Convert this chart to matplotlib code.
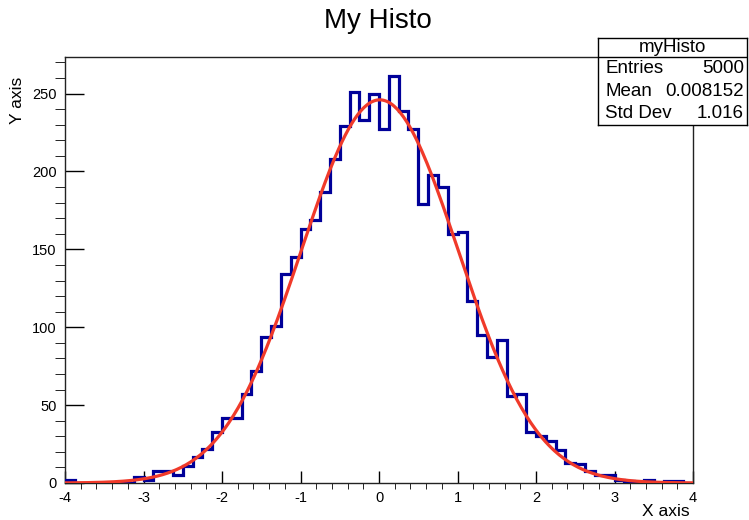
import numpy as np
import matplotlib
matplotlib.use("Agg")
import matplotlib.pyplot as plt
from matplotlib.ticker import MultipleLocator

plt.rcParams['font.family'] = ['Liberation Sans', 'DejaVu Sans']
plt.rcParams['axes.unicode_minus'] = False

# histogram: 64 bins from -4 to 4
x_min, x_max, n_bins = -4.0, 4.0, 64
counts = [2, 0, 0, 0, 0, 0, 0, 4, 2, 8, 8, 5, 11, 17, 22, 33,
          42, 42, 57, 72, 94, 101, 134, 145, 163, 169, 187, 208, 229, 251, 233, 250,
          227, 261, 239, 227, 179, 198, 190, 160, 161, 117, 95, 81, 92, 56, 57, 33,
          30, 27, 21, 13, 12, 8, 5, 5, 2, 1, 0, 2, 0, 1, 1, 0]

# gaussian fit parameters
fit_const = 246.0
fit_mean = 0.01
fit_sigma = 1.0

# stats box
stats_name = "myHisto"
stats_rows = [("Entries", "5000"), ("Mean", "0.008152"), ("Std Dev", "1.016")]

W, H = 749, 520
fig = plt.figure(figsize=(W / 100, H / 100), dpi=100)
ax = fig.add_axes([65 / W, 1 - 483 / H, 628 / W, 426 / H])

edges = np.linspace(x_min, x_max, n_bins + 1)
ax.stairs(counts, edges, color='#000099', lw=2.3, baseline=0, zorder=3)

xf = np.linspace(x_min, x_max, 400)
yf = fit_const * np.exp(-0.5 * ((xf - fit_mean) / fit_sigma) ** 2)
ax.plot(xf, yf, color='#f03a2a', lw=2.3, zorder=4)

ax.set_xlim(x_min, x_max)
ax.set_ylim(0, 273.5)

ax.xaxis.set_major_locator(MultipleLocator(1))
ax.xaxis.set_minor_locator(MultipleLocator(0.2))
ax.yaxis.set_major_locator(MultipleLocator(50))
ax.yaxis.set_minor_locator(MultipleLocator(10))
ax.tick_params(axis='both', direction='in', labelsize=10.5, colors='black', width=1)
ax.tick_params(axis='x', which='major', length=9, pad=6)
ax.tick_params(axis='x', which='minor', length=4.5)
ax.tick_params(axis='y', which='major', length=13.5, pad=6)
ax.tick_params(axis='y', which='minor', length=7.5)
for s in ax.spines.values():
    s.set_linewidth(1)
    s.set_color('#222222')

fig.text(378 / W, 1 - 21 / H, "My Histo", fontsize=20, ha='center', va='center')
fig.text(690 / W, 1 - 511 / H, "X axis", fontsize=12.5, ha='right', va='center')
fig.text(18 / W, 1 - 77 / H, "Y axis", fontsize=12.5, ha='center', va='top', rotation=90)

# stats box
sax = fig.add_axes([598 / W, 1 - 125 / H, 149 / W, 87 / H])
sax.set_xticks([])
sax.set_yticks([])
sax.set_facecolor('white')
for s in sax.spines.values():
    s.set_linewidth(1)
    s.set_color('black')
sax.set_xlim(0, 1)
sax.set_ylim(0, 1)
sep = 1 - 19 / 87
sax.axhline(sep, color='black', lw=1)
sax.text(0.5, (1 + sep) / 2, stats_name, ha='center', va='center', fontsize=13.5)
row_h = sep / len(stats_rows)
for k, (lab, val) in enumerate(stats_rows):
    yc = sep - (k + 0.5) * row_h
    sax.text(0.05, yc, lab, ha='left', va='center', fontsize=13.5)
    sax.text(0.98, yc, val, ha='right', va='center', fontsize=13.5)

fig.savefig("out.png", dpi=100)
